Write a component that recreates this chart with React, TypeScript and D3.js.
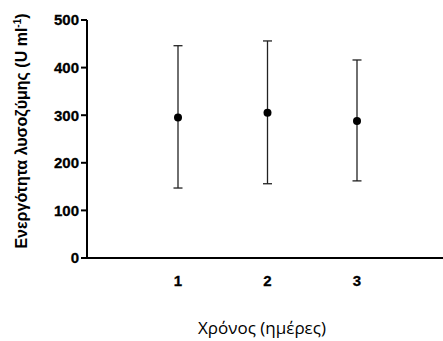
import React from "react";
import * as d3 from "d3";

const days = [1, 2, 3];
const means = [295, 305, 288];
const upper = [446, 456, 416];
const lower = [147, 156, 162];
const yTicks = [0, 100, 200, 300, 400, 500];
const xTicks = [1, 2, 3];

export default function App() {
  const W = 443, H = 341;
  const x = d3.scaleLinear().domain([0, 4]).range([88.5, 446.5]);
  const y = d3.scaleLinear().domain([0, 500]).range([258, 20]);
  const axisX = 87;
  return (
    <svg width={W} height={H} style={{ position: "absolute", left: 0, top: 0, background: "#fff" }}>
      {/* y axis */}
      <line x1={axisX} x2={axisX} y1={y(500)} y2={y(0) + 1} stroke="#000" strokeWidth={2} />
      {yTicks.map((t) => (
        <g key={t}>
          <line x1={axisX - 6} x2={axisX} y1={y(t)} y2={y(t)} stroke="#000" strokeWidth={2} />
          <text x={axisX - 8} y={y(t)} dy="0.36em" textAnchor="end" fontFamily="Liberation Sans, Arial, sans-serif" fontWeight="bold" fontSize={15} stroke="#000" strokeWidth={0.3}>
            {t}
          </text>
        </g>
      ))}
      {/* x axis */}
      <line x1={axisX - 1} x2={W} y1={y(0)} y2={y(0)} stroke="#000" strokeWidth={2} />
      {xTicks.map((t) => (
        <text key={t} x={x(t)} y={286} textAnchor="middle" fontFamily="Liberation Sans, Arial, sans-serif" fontWeight="bold" fontSize={15} stroke="#000" strokeWidth={0.3}>
          {t}
        </text>
      ))}
      {/* error bars */}
      {days.map((d, i) => (
        <g key={d} stroke="#222" strokeWidth={1.3}>
          <line x1={x(d)} x2={x(d)} y1={y(upper[i])} y2={y(lower[i])} />
          <line x1={x(d) - 4.5} x2={x(d) + 4.5} y1={y(upper[i])} y2={y(upper[i])} />
          <line x1={x(d) - 4.5} x2={x(d) + 4.5} y1={y(lower[i])} y2={y(lower[i])} />
        </g>
      ))}
      {days.map((d, i) => (
        <circle key={d} cx={x(d)} cy={y(means[i])} r={4} fill="#000" />
      ))}
      {/* titles */}
      <text x={262} y={334} textAnchor="middle" fontFamily="Open Sans, Liberation Sans, sans-serif" fontSize={17}>
        Χρόνος (ημέρες)
      </text>
      <text
        transform={`translate(27,131) rotate(-90)`}
        textAnchor="middle"
        fontFamily="Liberation Sans, Arial, sans-serif"
        fontWeight="bold"
        fontSize={16}
      >
        Ενεργότητα λυσοζύμης (U ml
        <tspan dy={-6} fontSize={10}>-1</tspan>
        <tspan dy={6}>)</tspan>
      </text>
    </svg>
  );
}
